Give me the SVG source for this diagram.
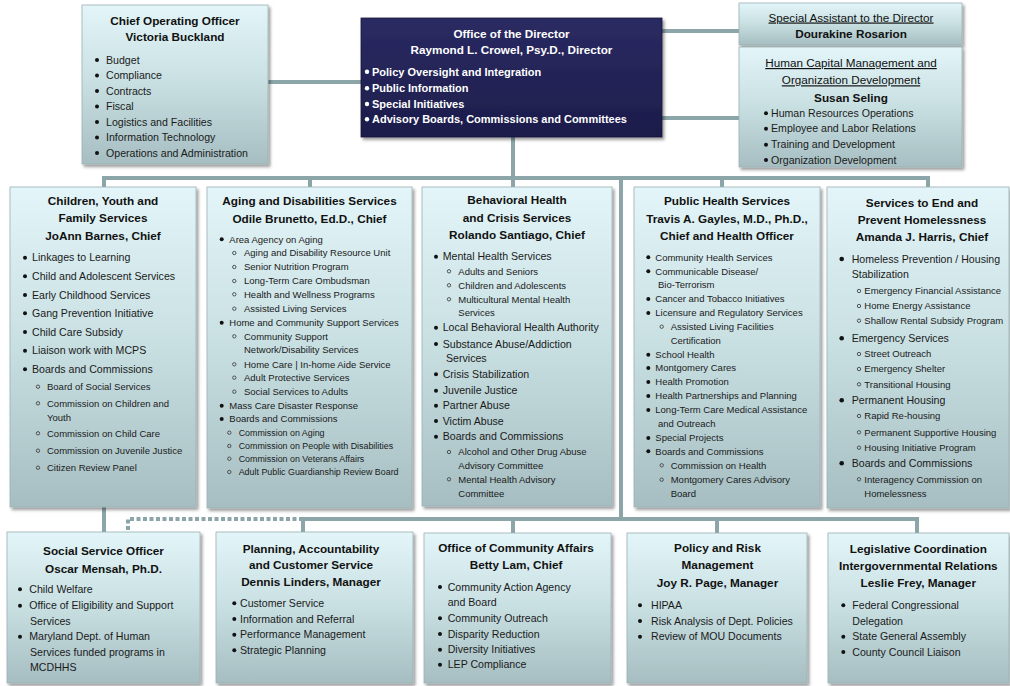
<svg xmlns="http://www.w3.org/2000/svg" width="1010" height="686" viewBox="0 0 1010 686">
<defs>
<linearGradient id="g" x1="0" y1="0" x2="0" y2="1">
<stop offset="0" stop-color="#e3f5f8"/>
<stop offset="0.5" stop-color="#c8dfe2"/>
<stop offset="1" stop-color="#a6bec1"/>
</linearGradient>
<linearGradient id="gd" x1="0" y1="0" x2="0" y2="1">
<stop offset="0" stop-color="#2b2b63"/>
<stop offset="1" stop-color="#1c1c4b"/>
</linearGradient>
<filter id="sh" x="-5%" y="-5%" width="115%" height="115%">
<feDropShadow dx="2" dy="2.5" stdDeviation="1.5" flood-color="#000" flood-opacity="0.4"/>
</filter>
</defs>
<style>
.box{fill:url(#g);stroke:#9bb2b5;stroke-width:0.8;filter:url(#sh)}
.dbox{fill:url(#gd);stroke:#15153a;stroke-width:0.8;filter:url(#sh)}
text{font-family:"Liberation Sans",Arial,sans-serif}
.t{font-weight:bold;font-size:11.75px;fill:#111;text-anchor:middle}
.u{font-size:11.7px;fill:#111;text-anchor:middle;text-decoration:underline}
.b{font-size:10.6px;fill:#1a1a1a}
.s{font-size:9.5px;fill:#1a1a1a}
.s2{font-size:8.9px;fill:#1a1a1a}
.dt{font-weight:bold;font-size:11.7px;fill:#fff;text-anchor:middle}
.db{font-weight:bold;font-size:11px;fill:#fff}
.dot{fill:#111}
.wdot{fill:#fff}
.ring{fill:none;stroke:#444;stroke-width:0.9}
.ln{fill:none;stroke:#8ba5a9;stroke-width:4}
.dash{fill:none;stroke:#8ba5a9;stroke-width:4;stroke-dasharray:4 2.5}
</style>

<g id="connectors">
<path class="ln" d="M268,82 H361"/>
<path class="ln" d="M662,31 H739"/>
<path class="ln" d="M662,118 H739"/>
<path class="ln" d="M513,137 V187"/>
<path class="ln" d="M104,187 V178 H928 V187"/>
<path class="ln" d="M310,178 V187"/>
<path class="ln" d="M722,178 V187"/>
<path class="ln" d="M621,178 V519"/>
<path class="ln" d="M104,507 V532"/>
<path class="ln" d="M303,532 V519 H917 V533"/>
<path class="ln" d="M513,519 V533"/>
<path class="ln" d="M717,519 V533"/>
<path class="dash" d="M303,519 H128 V532"/>
</g>

<g id="coo">
<rect class="box" x="82" y="5" width="186" height="159"/>
<text class="t" x="175" y="25.2">Chief Operating Officer</text>
<text class="t" x="175" y="41.2">Victoria Buckland</text>
<circle class="dot" cx="97" cy="60" r="2"/><text class="b" x="106" y="63.7">Budget</text>
<circle class="dot" cx="97" cy="75.5" r="2"/><text class="b" x="106" y="79.2">Compliance</text>
<circle class="dot" cx="97" cy="91" r="2"/><text class="b" x="106" y="94.7">Contracts</text>
<circle class="dot" cx="97" cy="106.5" r="2"/><text class="b" x="106" y="110.2">Fiscal</text>
<circle class="dot" cx="97" cy="122" r="2"/><text class="b" x="106" y="125.7">Logistics and Facilities</text>
<circle class="dot" cx="97" cy="137.5" r="2"/><text class="b" x="106" y="141.2">Information Technology</text>
<circle class="dot" cx="97" cy="153" r="2"/><text class="b" x="106" y="156.7">Operations and Administration</text>
</g>

<g id="director">
<rect class="dbox" x="361" y="18" width="301" height="119"/>
<text class="dt" x="511.5" y="37.5">Office of the Director</text>
<text class="dt" x="511.5" y="54.2">Raymond L. Crowel, Psy.D., Director</text>
<circle class="wdot" cx="367" cy="71.7" r="2.2"/><text class="db" x="372" y="75.5">Policy Oversight and Integration</text>
<circle class="wdot" cx="367" cy="88.3" r="2.2"/><text class="db" x="372" y="92.1">Public Information</text>
<circle class="wdot" cx="367" cy="104" r="2.2"/><text class="db" x="372" y="107.8">Special Initiatives</text>
<circle class="wdot" cx="367" cy="119.3" r="2.2"/><text class="db" x="372" y="123.1">Advisory Boards, Commissions and Committees</text>
</g>

<g id="special-assistant">
<rect class="box" x="739" y="3" width="223" height="42"/>
<text class="u" x="851" y="21.5">Special Assistant to the Director</text>
<text class="t" x="851" y="38.3">Dourakine Rosarion</text>
</g>

<g id="human-capital">
<rect class="box" x="739" y="47" width="223" height="120"/>
<text class="u" x="851" y="67">Human Capital Management and</text>
<text class="u" x="851" y="84.3">Organization Development</text>
<text class="t" x="851" y="102">Susan Seling</text>
<circle class="dot" cx="766" cy="113.3" r="2"/><text class="b" x="771" y="117">Human Resources Operations</text>
<circle class="dot" cx="766" cy="128.7" r="2"/><text class="b" x="771" y="132.4">Employee and Labor Relations</text>
<circle class="dot" cx="766" cy="144.7" r="2"/><text class="b" x="771" y="148.4">Training and Development</text>
<circle class="dot" cx="766" cy="160" r="2"/><text class="b" x="771" y="163.7">Organization Development</text>
</g>

<g id="children">
<rect class="box" x="10" y="187" width="186" height="320"/>
<text class="t" x="103" y="205.2">Children, Youth and</text>
<text class="t" x="103" y="222.2">Family Services</text>
<text class="t" x="103" y="240.2">JoAnn Barnes, Chief</text>
<circle class="dot" cx="25" cy="257.7" r="2"/><text class="b" x="32" y="261.4">Linkages to Learning</text>
<circle class="dot" cx="25" cy="276.3" r="2"/><text class="b" x="32" y="280">Child and Adolescent Services</text>
<circle class="dot" cx="25" cy="295" r="2"/><text class="b" x="32" y="298.7">Early Childhood Services</text>
<circle class="dot" cx="25" cy="313.3" r="2"/><text class="b" x="32" y="317">Gang Prevention Initiative</text>
<circle class="dot" cx="25" cy="332" r="2"/><text class="b" x="32" y="335.7">Child Care Subsidy</text>
<circle class="dot" cx="25" cy="350.7" r="2"/><text class="b" x="32" y="354.4">Liaison work with MCPS</text>
<circle class="dot" cx="25" cy="369.3" r="2"/><text class="b" x="32" y="373">Boards and Commissions</text>
<circle class="ring" cx="38" cy="386.7" r="1.7"/><text class="s" x="47" y="390">Board of Social Services</text>
<circle class="ring" cx="38" cy="403.3" r="1.7"/><text class="s" x="47" y="406.6">Commission on Children and</text>
<text class="s" x="47" y="420.6">Youth</text>
<circle class="ring" cx="38" cy="433.3" r="1.7"/><text class="s" x="47" y="436.6">Commission on Child Care</text>
<circle class="ring" cx="38" cy="450.7" r="1.7"/><text class="s" x="47" y="454">Commission on Juvenile Justice</text>
<circle class="ring" cx="38" cy="467.7" r="1.7"/><text class="s" x="47" y="471">Citizen Review Panel</text>
</g>

<g id="aging">
<rect class="box" x="207" y="187" width="205" height="321"/>
<text class="t" x="309.5" y="205.2">Aging and Disabilities Services</text>
<text class="t" x="309.5" y="222.5">Odile Brunetto, Ed.D., Chief</text>
<circle class="dot" cx="221.7" cy="239.3" r="2"/><text class="s" x="229.3" y="242.6">Area Agency on Aging</text>
<circle class="ring" cx="234.3" cy="253" r="1.7"/><text class="s" x="244" y="256.3">Aging and Disability Resource Unit</text>
<circle class="ring" cx="234.3" cy="267" r="1.7"/><text class="s" x="244" y="270.3">Senior Nutrition Program</text>
<circle class="ring" cx="234.3" cy="281" r="1.7"/><text class="s" x="244" y="284.3">Long-Term Care Ombudsman</text>
<circle class="ring" cx="234.3" cy="294.3" r="1.7"/><text class="s" x="244" y="297.6">Health and Wellness Programs</text>
<circle class="ring" cx="234.3" cy="308.7" r="1.7"/><text class="s" x="244" y="312">Assisted Living Services</text>
<circle class="dot" cx="221.7" cy="322.7" r="2"/><text class="s" x="229.3" y="326">Home and Community Support Services</text>
<circle class="ring" cx="234.3" cy="336.3" r="1.7"/><text class="s" x="244" y="339.6">Community Support</text>
<text class="s" x="244" y="353.3">Network/Disability Services</text>
<circle class="ring" cx="234.3" cy="364.3" r="1.7"/><text class="s" x="244" y="367.6">Home Care | In-home Aide Service</text>
<circle class="ring" cx="234.3" cy="377.7" r="1.7"/><text class="s" x="244" y="381">Adult Protective Services</text>
<circle class="ring" cx="234.3" cy="391.7" r="1.7"/><text class="s" x="244" y="395">Social Services to Adults</text>
<circle class="dot" cx="221.7" cy="405.7" r="2"/><text class="s" x="229.3" y="409">Mass Care Disaster Response</text>
<circle class="dot" cx="221.7" cy="419" r="2"/><text class="s" x="229.3" y="422.3">Boards and Commissions</text>
<circle class="ring" cx="229.3" cy="432.7" r="1.7"/><text class="s2" x="238.7" y="436">Commission on Aging</text>
<circle class="ring" cx="229.3" cy="446" r="1.7"/><text class="s2" x="238.7" y="449.3">Commission on People with Disabilities</text>
<circle class="ring" cx="229.3" cy="458.7" r="1.7"/><text class="s2" x="238.7" y="462">Commission on Veterans Affairs</text>
<circle class="ring" cx="229.3" cy="472" r="1.7"/><text class="s2" x="238.7" y="475.3">Adult Public Guardianship Review Board</text>
</g>

<g id="behavioral">
<rect class="box" x="422" y="187" width="190" height="319"/>
<text class="t" x="517" y="204.2">Behavioral Health</text>
<text class="t" x="517" y="221.5">and Crisis Services</text>
<text class="t" x="517" y="239.2">Rolando Santiago, Chief</text>
<circle class="dot" cx="436" cy="256.7" r="2"/><text class="b" x="442.7" y="260.4">Mental Health Services</text>
<circle class="ring" cx="449" cy="271.3" r="1.7"/><text class="s" x="458.3" y="274.6">Adults and Seniors</text>
<circle class="ring" cx="449" cy="285.3" r="1.7"/><text class="s" x="458.3" y="288.6">Children and Adolescents</text>
<circle class="ring" cx="449" cy="299.3" r="1.7"/><text class="s" x="458.3" y="302.6">Multicultural Mental Health</text>
<text class="s" x="458.3" y="316.3">Services</text>
<circle class="dot" cx="436" cy="327.7" r="2"/><text class="b" x="442.7" y="331.4">Local Behavioral Health Authority</text>
<circle class="dot" cx="436" cy="344" r="2"/><text class="b" x="442.7" y="347.7">Substance Abuse/Addiction</text>
<text class="b" x="446" y="362">Services</text>
<circle class="dot" cx="436" cy="374.3" r="2"/><text class="b" x="442.7" y="378">Crisis Stabilization</text>
<circle class="dot" cx="436" cy="390.7" r="2"/><text class="b" x="442.7" y="394.4">Juvenile Justice</text>
<circle class="dot" cx="436" cy="405.7" r="2"/><text class="b" x="442.7" y="409.4">Partner Abuse</text>
<circle class="dot" cx="436" cy="421" r="2"/><text class="b" x="442.7" y="424.7">Victim Abuse</text>
<circle class="dot" cx="436" cy="436.7" r="2"/><text class="b" x="442.7" y="440.4">Boards and Commissions</text>
<circle class="ring" cx="449" cy="452" r="1.7"/><text class="s" x="458.3" y="455.3">Alcohol and Other Drug Abuse</text>
<text class="s" x="458.3" y="469">Advisory Committee</text>
<circle class="ring" cx="449" cy="479.3" r="1.7"/><text class="s" x="458.3" y="482.6">Mental Health Advisory</text>
<text class="s" x="458.3" y="496.6">Committee</text>
</g>

<g id="public-health">
<rect class="box" x="634" y="187" width="186" height="320"/>
<text class="t" x="727" y="205.2">Public Health Services</text>
<text class="t" x="727" y="222.5">Travis A. Gayles, M.D., Ph.D.,</text>
<text class="t" x="727" y="240.2">Chief and Health Officer</text>
<circle class="dot" cx="648.3" cy="257.3" r="2"/><text class="s" x="655.3" y="260.6">Community Health Services</text>
<circle class="dot" cx="648.3" cy="271.3" r="2"/><text class="s" x="655.3" y="274.6">Communicable Disease/</text>
<text class="s" x="658" y="288.3">Bio-Terrorism</text>
<circle class="dot" cx="648.3" cy="299" r="2"/><text class="s" x="655.3" y="302.3">Cancer and Tobacco Initiatives</text>
<circle class="dot" cx="648.3" cy="313" r="2"/><text class="s" x="655.3" y="316.3">Licensure and Regulatory Services</text>
<circle class="ring" cx="661.7" cy="326.7" r="1.7"/><text class="s" x="670.7" y="330">Assisted Living Facilities</text>
<text class="s" x="670.7" y="344">Certification</text>
<circle class="dot" cx="648.3" cy="354.7" r="2"/><text class="s" x="655.3" y="358">School Health</text>
<circle class="dot" cx="648.3" cy="368" r="2"/><text class="s" x="655.3" y="371.3">Montgomery Cares</text>
<circle class="dot" cx="648.3" cy="382" r="2"/><text class="s" x="655.3" y="385.3">Health Promotion</text>
<circle class="dot" cx="648.3" cy="396" r="2"/><text class="s" x="655.3" y="399.3">Health Partnerships and Planning</text>
<circle class="dot" cx="648.3" cy="410" r="2"/><text class="s" x="655.3" y="413.3">Long-Term Care Medical Assistance</text>
<text class="s" x="658" y="427.3">and Outreach</text>
<circle class="dot" cx="648.3" cy="438" r="2"/><text class="s" x="655.3" y="441.3">Special Projects</text>
<circle class="dot" cx="648.3" cy="451.3" r="2"/><text class="s" x="655.3" y="454.6">Boards and Commissions</text>
<circle class="ring" cx="661.7" cy="465.3" r="1.7"/><text class="s" x="670.7" y="468.6">Commission on Health</text>
<circle class="ring" cx="661.7" cy="479.7" r="1.7"/><text class="s" x="670.7" y="483">Montgomery Cares Advisory</text>
<text class="s" x="670.7" y="496.6">Board</text>
</g>

<g id="homelessness">
<rect class="box" x="827" y="187" width="182" height="321"/>
<text class="t" x="922" y="206.5">Services to End and</text>
<text class="t" x="922" y="223.9">Prevent Homelessness</text>
<text class="t" x="922" y="240.9">Amanda J. Harris, Chief</text>
<circle class="dot" cx="841.7" cy="259" r="2.3"/><text class="b" x="851.7" y="262.7">Homeless Prevention / Housing</text>
<text class="b" x="851.7" y="278">Stabilization</text>
<circle class="ring" cx="859" cy="291" r="1.7"/><text class="s" x="864.3" y="294.3">Emergency Financial Assistance</text>
<circle class="ring" cx="859" cy="306" r="1.7"/><text class="s" x="864.3" y="309.3">Home Energy Assistance</text>
<circle class="ring" cx="859" cy="320.7" r="1.7"/><text class="s" x="864.3" y="324">Shallow Rental Subsidy Program</text>
<circle class="dot" cx="841.7" cy="338.3" r="2.3"/><text class="b" x="851.7" y="342">Emergency Services</text>
<circle class="ring" cx="859" cy="354" r="1.7"/><text class="s" x="864.3" y="357.3">Street Outreach</text>
<circle class="ring" cx="859" cy="369" r="1.7"/><text class="s" x="864.3" y="372.3">Emergency Shelter</text>
<circle class="ring" cx="859" cy="384.3" r="1.7"/><text class="s" x="864.3" y="387.6">Transitional Housing</text>
<circle class="dot" cx="841.7" cy="400.3" r="2.3"/><text class="b" x="851.7" y="404">Permanent Housing</text>
<circle class="ring" cx="859" cy="416" r="1.7"/><text class="s" x="864.3" y="419.3">Rapid Re-housing</text>
<circle class="ring" cx="859" cy="432.3" r="1.7"/><text class="s" x="864.3" y="435.6">Permanent Supportive Housing</text>
<circle class="ring" cx="859" cy="447.7" r="1.7"/><text class="s" x="864.3" y="451">Housing Initiative Program</text>
<circle class="dot" cx="841.7" cy="463.3" r="2.3"/><text class="b" x="851.7" y="467">Boards and Commissions</text>
<circle class="ring" cx="859" cy="479.3" r="1.7"/><text class="s" x="864.3" y="482.6">Interagency Commission on</text>
<text class="s" x="864.3" y="496.6">Homelessness</text>
</g>

<g id="social-service">
<rect class="box" x="7" y="532" width="193" height="151"/>
<text class="t" x="103.5" y="555">Social Service Officer</text>
<text class="t" x="103.5" y="572.5">Oscar Mensah, Ph.D.</text>
<circle class="dot" cx="20" cy="589.3" r="2"/><text class="b" x="29.3" y="593">Child Welfare</text>
<circle class="dot" cx="20" cy="605.7" r="2"/><text class="b" x="29.3" y="609.4">Office of Eligibility and Support</text>
<text class="b" x="30" y="624.7">Services</text>
<circle class="dot" cx="20" cy="636.7" r="2"/><text class="b" x="29.3" y="640.4">Maryland Dept. of Human</text>
<text class="b" x="30" y="656">Services funded programs in</text>
<text class="b" x="30" y="671.4">MCDHHS</text>
</g>

<g id="planning">
<rect class="box" x="216" y="532" width="197" height="151"/>
<text class="t" x="311" y="552.5">Planning, Accountability</text>
<text class="t" x="311" y="569.2">and Customer Service</text>
<text class="t" x="311" y="585.9">Dennis Linders, Manager</text>
<circle class="dot" cx="234.3" cy="603.3" r="2"/><text class="b" x="240" y="607">Customer Service</text>
<circle class="dot" cx="234.3" cy="619" r="2"/><text class="b" x="240" y="622.7">Information and Referral</text>
<circle class="dot" cx="234.3" cy="634.7" r="2"/><text class="b" x="240" y="638.4">Performance Management</text>
<circle class="dot" cx="234.3" cy="650.3" r="2"/><text class="b" x="240" y="654">Strategic Planning</text>
</g>

<g id="community-affairs">
<rect class="box" x="424" y="533" width="187" height="150"/>
<text class="t" x="516" y="551.9">Office of Community Affairs</text>
<text class="t" x="516" y="569.2">Betty Lam, Chief</text>
<circle class="dot" cx="440" cy="587" r="2"/><text class="b" x="447.7" y="590.7">Community Action Agency</text>
<text class="b" x="447.7" y="606.4">and Board</text>
<circle class="dot" cx="440" cy="618.3" r="2"/><text class="b" x="447.7" y="622">Community Outreach</text>
<circle class="dot" cx="440" cy="634" r="2"/><text class="b" x="447.7" y="637.7">Disparity Reduction</text>
<circle class="dot" cx="440" cy="649.7" r="2"/><text class="b" x="447.7" y="653.4">Diversity Initiatives</text>
<circle class="dot" cx="440" cy="664.7" r="2"/><text class="b" x="447.7" y="668.4">LEP Compliance</text>
</g>

<g id="policy-risk">
<rect class="box" x="627" y="533" width="180" height="150"/>
<text class="t" x="717.5" y="551.9">Policy and Risk</text>
<text class="t" x="717.5" y="569.2">Management</text>
<text class="t" x="717.5" y="586.9">Joy R. Page, Manager</text>
<circle class="dot" cx="640" cy="605.3" r="2"/><text class="b" x="651" y="609">HIPAA</text>
<circle class="dot" cx="640" cy="621" r="2"/><text class="b" x="651" y="624.7">Risk Analysis of Dept. Policies</text>
<circle class="dot" cx="640" cy="636.7" r="2"/><text class="b" x="651" y="640.4">Review of MOU Documents</text>
</g>

<g id="legislative">
<rect class="box" x="828" y="533" width="181" height="150"/>
<text class="t" x="918.3" y="552.5">Legislative Coordination</text>
<text class="t" x="918.3" y="570.2">Intergovernmental Relations</text>
<text class="t" x="918.3" y="586.9">Leslie Frey, Manager</text>
<circle class="dot" cx="843.3" cy="605.3" r="2"/><text class="b" x="852.3" y="609">Federal Congressional</text>
<text class="b" x="852.3" y="624.7">Delegation</text>
<circle class="dot" cx="843.3" cy="636.7" r="2"/><text class="b" x="852.3" y="640.4">State General Assembly</text>
<circle class="dot" cx="843.3" cy="652" r="2"/><text class="b" x="852.3" y="655.7">County Council Liaison</text>
</g>
</svg>
